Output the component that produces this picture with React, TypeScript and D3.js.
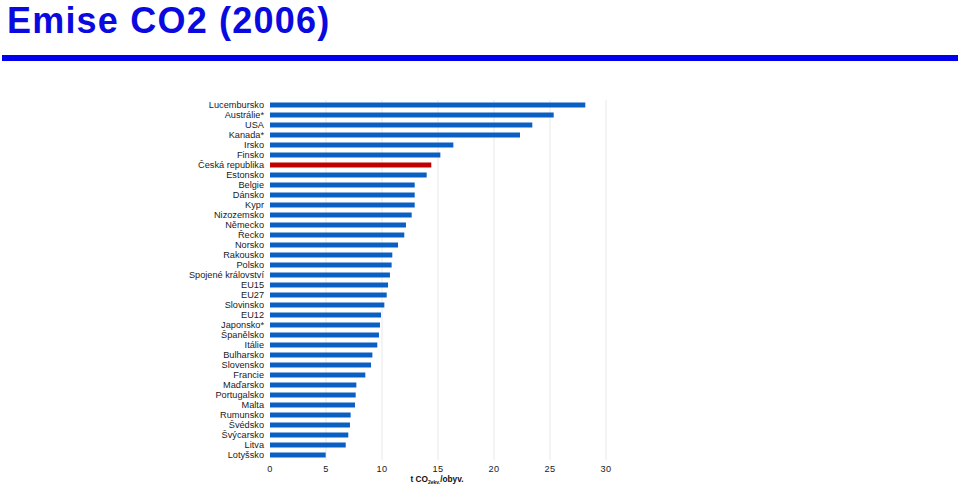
import React, { useEffect, useRef } from "react";
import * as d3 from "d3";

const countries = [
  "Lucembursko", "Austrálie*", "USA", "Kanada*", "Irsko", "Finsko",
  "Česká republika", "Estonsko", "Belgie", "Dánsko", "Kypr", "Nizozemsko",
  "Německo", "Řecko", "Norsko", "Rakousko", "Polsko", "Spojené království",
  "EU15", "EU27", "Slovinsko", "EU12", "Japonsko*", "Španělsko", "Itálie",
  "Bulharsko", "Slovensko", "Francie", "Maďarsko", "Portugalsko", "Malta",
  "Rumunsko", "Švédsko", "Švýcarsko", "Litva", "Lotyšsko"
];
const emissions = [
  28.15, 25.33, 23.42, 22.32, 16.37, 15.21, 14.4, 13.99, 12.92, 12.92, 12.92,
  12.65, 12.14, 11.99, 11.43, 10.92, 10.86, 10.71, 10.54, 10.42, 10.21, 9.91,
  9.82, 9.73, 9.58, 9.14, 9.02, 8.51, 7.71, 7.65, 7.59, 7.2, 7.14, 6.99, 6.76,
  4.97
];
const highlight = "Česká republika";
const xTicks = [0, 5, 10, 15, 20, 25, 30];

const W = 960;
const H = 485;

const CO2Chart = () => {
  const ref = useRef<SVGSVGElement | null>(null);

  useEffect(() => {
    const svg = d3.select(ref.current);
    svg.selectAll("*").remove();

    const x = d3.scaleLinear().domain([0, 30]).range([270, 606]);
    const y = d3
      .scaleBand()
      .domain(countries)
      .range([100, 460])
      .paddingInner(0.5)
      .paddingOuter(0.25);

    // title + rule
    svg
      .append("text")
      .attr("x", 7)
      .attr("y", 32.5)
      .attr("font-family", "'Liberation Sans', Arial, sans-serif")
      .attr("font-weight", "bold")
      .attr("font-size", 36)
      .attr("letter-spacing", 1.2)
      .attr("fill", "#0a0ae0")
      .text("Emise CO2 (2006)");

    svg
      .append("rect")
      .attr("x", 2)
      .attr("y", 55)
      .attr("width", 956)
      .attr("height", 6)
      .attr("fill", "#0000ee");

    // grid
    svg
      .append("g")
      .selectAll("line")
      .data(xTicks.slice(1))
      .join("line")
      .attr("x1", d => x(d))
      .attr("x2", d => x(d))
      .attr("y1", 100)
      .attr("y2", 460)
      .attr("stroke", "#e8e8e8")
      .attr("stroke-width", 1);

    // bars
    svg
      .append("g")
      .selectAll("rect")
      .data(countries)
      .join("rect")
      .attr("x", x(0))
      .attr("y", d => y(d)!)
      .attr("width", (d, i) => x(emissions[i]) - x(0))
      .attr("height", y.bandwidth())
      .attr("fill", d => (d === highlight ? "#c00000" : "#0a60c2"));

    // category labels
    svg
      .append("g")
      .selectAll("text")
      .data(countries)
      .join("text")
      .attr("x", 264)
      .attr("y", d => y(d)! + y.bandwidth() / 2)
      .attr("dy", "0.35em")
      .attr("text-anchor", "end")
      .attr("font-family", "'Liberation Sans', Arial, sans-serif")
      .attr("font-size", 9.2)
      .attr("fill", "#1a1a1a")
      .text(d => d);

    // x tick labels
    svg
      .append("g")
      .selectAll("text")
      .data(xTicks)
      .join("text")
      .attr("x", d => x(d))
      .attr("y", 472)
      .attr("text-anchor", "middle")
      .attr("font-family", "'Liberation Sans', Arial, sans-serif")
      .attr("font-size", 9.2)
      .attr("letter-spacing", 0.3)
      .attr("fill", "#1a1a1a")
      .text(d => d);

    // axis title
    const t = svg
      .append("text")
      .attr("x", 437)
      .attr("y", 482)
      .attr("text-anchor", "middle")
      .attr("font-family", "'Liberation Sans', Arial, sans-serif")
      .attr("font-weight", "bold")
      .attr("font-size", 8.3)
      .attr("fill", "#111");
    t.append("tspan").text("t CO");
    t.append("tspan").attr("font-size", 5).attr("dy", 2).text("2ekv.");
    t.append("tspan").attr("dy", -2).text("/obyv.");
  }, []);

  return <svg ref={ref} width={W} height={H} style={{ display: "block" }} />;
};

export default function App() {
  return (
    <div style={{ position: "absolute", left: 0, top: 0, background: "#fff" }}>
      <CO2Chart />
    </div>
  );
}
